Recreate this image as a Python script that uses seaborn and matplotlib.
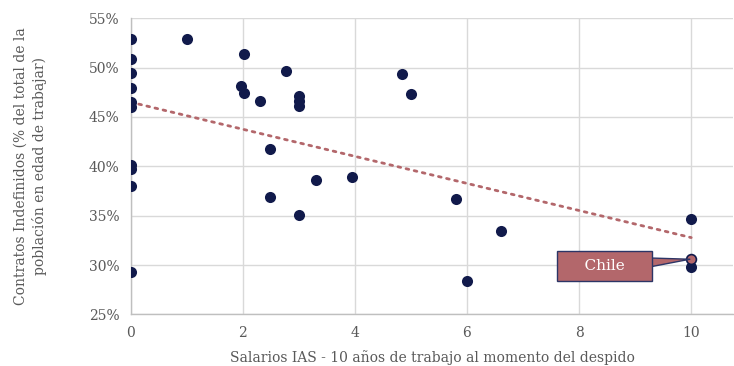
import numpy as np
import pandas as pd
import matplotlib
matplotlib.use("Agg")
import matplotlib.pyplot as plt
from matplotlib.ticker import PercentFormatter, MultipleLocator
import seaborn as sns

# ---- data ----
salarios = [0, 0, 0, 0, 0, 0, 0, 0, 0, 0,
            1.0, 2.02, 1.96, 2.02, 2.3, 2.77, 3.0, 3.0, 3.0,
            2.49, 3.3, 3.95, 2.49, 3.0, 4.84, 5.01, 5.8, 6.6, 6.0,
            10, 10]
contratos = [52.9, 50.9, 49.5, 47.9, 46.5, 46.0, 40.1, 39.7, 38.0, 29.25,
             52.9, 51.4, 48.1, 47.4, 46.6, 49.7, 47.1, 46.6, 46.1,
             41.8, 38.6, 38.9, 36.9, 35.1, 49.4, 47.35, 36.7, 33.5, 28.4,
             34.7, 29.8]
chile_x = [10]
chile_y = [30.6]
chile_label = "Chile"

xlabel = "Salarios IAS - 10 años de trabajo al momento del despido"
ylabel = "Contratos Indefinidos (% del total de la\npoblación en edad de trabajar)"

navy = "#111a4b"
rose = "#b3676b"
grid_c = "#d9d9d9"
txt_c = "#595959"

df = pd.DataFrame({"x": salarios + chile_x, "y": contratos + chile_y})
others = pd.DataFrame({"x": salarios, "y": contratos})
chile = pd.DataFrame({"x": chile_x, "y": chile_y})

sns.set_theme(style="white")
plt.rcParams["font.family"] = ["DejaVu Serif"]

fig = plt.figure(figsize=(7.34, 3.66), dpi=100)
ax = fig.add_axes([0.178, 0.141, 0.821, 0.809])

sns.regplot(data=df, x="x", y="y", scatter=False, ci=None, ax=ax,
            line_kws=dict(color=rose, linestyle=(0, (1, 2.0)), linewidth=2.0, dash_capstyle="round"))
sns.scatterplot(data=others, x="x", y="y", ax=ax, color=navy, s=64,
                edgecolor=navy, linewidth=0, zorder=3)
sns.scatterplot(data=chile, x="x", y="y", ax=ax, color=rose, s=50,
                edgecolor=navy, linewidth=1.2, zorder=4)

ax.annotate("    " + chile_label + "    ", xy=(chile_x[0], chile_y[0]), xytext=(8.45, 29.9),
            ha="center", va="center", color="white", fontsize=11,
            bbox=dict(boxstyle="square,pad=0.5", fc=rose, ec="#2c3566", lw=1.0),
            arrowprops=dict(arrowstyle="wedge,tail_width=0.55,shrink_factor=0.5",
                            fc=rose, ec="#2c3566", lw=1.0, shrinkA=0, shrinkB=1),
            zorder=5)

ax.set_xlim(0, 10.75)
ax.set_ylim(25, 55)
ax.xaxis.set_major_locator(MultipleLocator(2))
ax.yaxis.set_major_locator(MultipleLocator(5))
ax.yaxis.set_major_formatter(PercentFormatter(decimals=0))
ax.grid(True, color=grid_c, linewidth=1.0)
ax.set_axisbelow(True)
for side in ["top", "right"]:
    ax.spines[side].set_visible(False)
for side in ["left", "bottom"]:
    ax.spines[side].set_color("#bfbfbf")
    ax.spines[side].set_linewidth(1.0)
ax.tick_params(axis="both", colors=txt_c, labelsize=10, length=0, pad=8)
ax.set_xlabel(xlabel, color=txt_c, fontsize=10, labelpad=8)
ax.set_ylabel(ylabel, color=txt_c, fontsize=10, labelpad=30, linespacing=1.35)

fig.savefig("out.png", dpi=100)
